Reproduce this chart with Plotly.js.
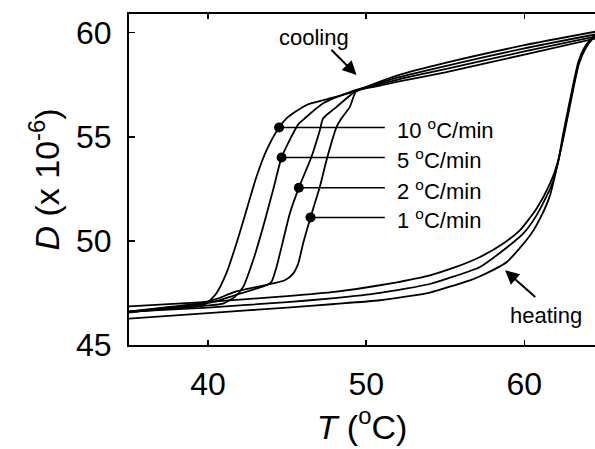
<!DOCTYPE html>
<html>
<head>
<meta charset="utf-8">
<script src="https://cdn.plot.ly/plotly-3.0.1.min.js"></script>
<style>html,body{margin:0;padding:0;background:#fff;}#chart{width:595px;height:449px;}</style>
</head>
<body>
<div id="chart"></div>
<script>
// ---- Data (T in °C, D in units of 1e-6) ----
// Cooling runs (from high T down to low T)
var cool10T = [64.5, 60, 55, 52, 50.5, 49.18, 47.49, 46.23, 44.96, 44.49, 43.7, 43.06, 42.43, 41.8, 41.16, 40.53, 39.9, 39, 37, 35];
var cool10D = [60.05, 59.4, 58.55, 57.95, 57.55, 57.16, 56.8, 56.53, 55.89, 55.45, 54.36, 53.08, 51.48, 49.89, 48.45, 47.49, 47.0, 46.88, 46.75, 46.62];

var cool5T = [64.5, 60, 55, 52, 50.5, 49.18, 47.28, 46.12, 45.7, 45.2, 44.65, 44.11, 43.48, 42.85, 42.22, 41.69, 40.95, 40, 38, 35];
var cool5D = [59.92, 59.25, 58.4, 57.85, 57.5, 57.21, 56.61, 55.89, 55.6, 54.9, 54.01, 52.44, 50.67, 49.07, 47.79, 47.31, 46.99, 46.9, 46.76, 46.58];

var cool2T = [64.5, 60, 55, 52, 50.5, 49.29, 48.13, 47.28, 47.07, 46.54, 45.74, 45.17, 44.75, 44.33, 44.01, 43.7, 41.69, 40.5, 39.4, 37, 35];
var cool2D = [59.82, 59.1, 58.25, 57.75, 57.45, 57.16, 56.44, 55.89, 55.32, 54.04, 52.55, 51.32, 50.03, 48.75, 48.03, 47.87, 47.39, 47.1, 46.95, 46.75, 46.55];

var cool1T = [64.5, 60, 55, 52, 50.5, 49.39, 48.97, 48.44, 48.13, 47.49, 47.07, 46.48, 46.01, 45.7, 45.38, 44.85, 41.69, 40.5, 39.4, 37, 35];
var cool1D = [59.72, 58.95, 58.1, 57.65, 57.4, 57.22, 56.44, 55.89, 55.48, 53.88, 52.6, 51.13, 49.88, 48.91, 48.43, 48.11, 47.55, 47.2, 47.0, 46.78, 46.6];

// Heating runs (from low T up to high T); three distinct traces are visible
var heatAT = [35, 40, 45, 48, 50.87, 54.03, 55.5, 57.2, 58.67, 59.73, 60.78, 61.63, 62.15, 62.47, 62.89, 63.42, 63.9, 64.47];
var heatAD = [46.86, 47.07, 47.35, 47.55, 47.87, 48.35, 48.7, 49.23, 49.88, 50.52, 51.56, 52.76, 53.88, 55.2, 56.77, 58.61, 59.41, 59.9];

var heatBT = [35, 40, 45, 48, 50.87, 54.03, 55.5, 57.2, 58.67, 59.94, 60.78, 61.73, 62.15, 62.5, 62.9, 63.45, 63.95, 64.47];
var heatBD = [46.6, 46.8, 47.06, 47.25, 47.5, 47.93, 48.28, 48.75, 49.55, 50.36, 51.24, 52.68, 53.82, 55.15, 56.7, 58.55, 59.4, 59.88];

var heatCT = [35, 40, 45, 48, 50.87, 54.03, 55.5, 56.56, 57.2, 58.89, 60.37, 61.0, 61.63, 62.15, 62.5, 62.92, 63.45, 63.95, 64.47];
var heatCD = [46.27, 46.53, 46.8, 46.97, 47.15, 47.52, 47.85, 48.1, 48.3, 48.99, 50.27, 51.08, 52.2, 53.85, 55.05, 56.62, 58.5, 59.35, 59.85];

// Rate markers on the cooling curves and their labels
var rateLabels = ['10 <sup>o</sup>C/min', '5 <sup>o</sup>C/min', '2 <sup>o</sup>C/min', '1 <sup>o</sup>C/min'];
var dotT = [44.49, 44.65, 45.74, 46.48];
var dotD = [55.45, 54.01, 52.55, 51.13];

// Axis ticks
var xTicks = [40, 50, 60];
var yTicks = [45, 50, 55, 60];

// ---- Build the chart ----
var FONT = 'Liberation Sans, Arial, Helvetica, sans-serif';
var lineStyle = {color: '#000', width: 1.8, shape: 'spline', smoothing: 0.6};
function curve(x, y) {
  return {x: x, y: y, type: 'scatter', mode: 'lines', line: lineStyle, hoverinfo: 'skip', showlegend: false};
}
var traces = [
  curve(cool10T, cool10D), curve(cool5T, cool5D), curve(cool2T, cool2D), curve(cool1T, cool1D),
  curve(heatAT, heatAD), curve(heatBT, heatBD), curve(heatCT, heatCD),
  {x: dotT, y: dotD, type: 'scatter', mode: 'markers', marker: {color: '#000', size: 10}, showlegend: false, hoverinfo: 'skip'}
];

var labelLineEnd = 51.18, labelTextX = 51.85;
var shapes = dotT.map(function (t, i) {
  return {type: 'line', xref: 'x', yref: 'y', x0: t, x1: labelLineEnd, y0: dotD[i], y1: dotD[i],
          line: {color: '#000', width: 1.5}, layer: 'below'};
});

var annotations = rateLabels.map(function (txt, i) {
  return {x: labelTextX, y: dotD[i], xref: 'x', yref: 'y', text: txt, showarrow: false,
          xanchor: 'left', yanchor: 'middle', yshift: -2, font: {family: FONT, size: 22, color: '#000'}};
});
annotations.push(
  {x: 46.69, y: 59.75, xref: 'x', yref: 'y', text: 'cooling', showarrow: false, xanchor: 'center', yanchor: 'middle',
   font: {family: FONT, size: 22, color: '#000'}},
  {x: 49.39, y: 57.97, xref: 'x', yref: 'y', text: '', showarrow: true, ax: -26.7, ay: -26.7,
   arrowhead: 2, arrowsize: 1.4, arrowwidth: 2, arrowcolor: '#000'},
  {x: 61.34, y: 46.43, xref: 'x', yref: 'y', text: 'heating', showarrow: false, xanchor: 'center', yanchor: 'middle',
   font: {family: FONT, size: 22, color: '#000'}},
  {x: 58.78, y: 48.59, xref: 'x', yref: 'y', text: '', showarrow: true, ax: 31.7, ay: 28,
   arrowhead: 2, arrowsize: 1.4, arrowwidth: 2, arrowcolor: '#000'}
);

var layout = {
  width: 595, height: 449,
  margin: {l: 129, r: 0, t: 14, b: 104, pad: 0},
  paper_bgcolor: '#fff', plot_bgcolor: '#fff',
  font: {family: FONT, color: '#000'},
  showlegend: false,
  xaxis: {
    range: [35, 64.47], tickvals: xTicks, ticktext: xTicks.map(String),
    ticks: 'inside', ticklen: 5, tickwidth: 1.5, tickcolor: '#000',
    showline: true, linewidth: 2, linecolor: '#000', mirror: 'ticks',
    showgrid: false, zeroline: false, ticklabelstandoff: 10,
    tickfont: {family: FONT, size: 32, color: '#000'},
    title: {text: '<i>T</i> (<sup>o</sup>C)', font: {family: FONT, size: 34, color: '#000'}, standoff: 10}
  },
  yaxis: {
    range: [45, 60.9], tickvals: yTicks, ticktext: yTicks.map(String),
    ticks: 'inside', ticklen: 6, tickwidth: 1.5, tickcolor: '#000',
    showline: true, linewidth: 2, linecolor: '#000', mirror: false,
    showgrid: false, zeroline: false, ticklabelstandoff: 9,
    tickfont: {family: FONT, size: 32, color: '#000'},
    title: {text: '<i>D</i> (x 10<sup>-6</sup>)', font: {family: FONT, size: 34, color: '#000'}, standoff: 6}
  },
  shapes: shapes,
  annotations: annotations
};

Plotly.newPlot('chart', traces, layout, {staticPlot: true, displayModeBar: false});
</script>
</body>
</html>
